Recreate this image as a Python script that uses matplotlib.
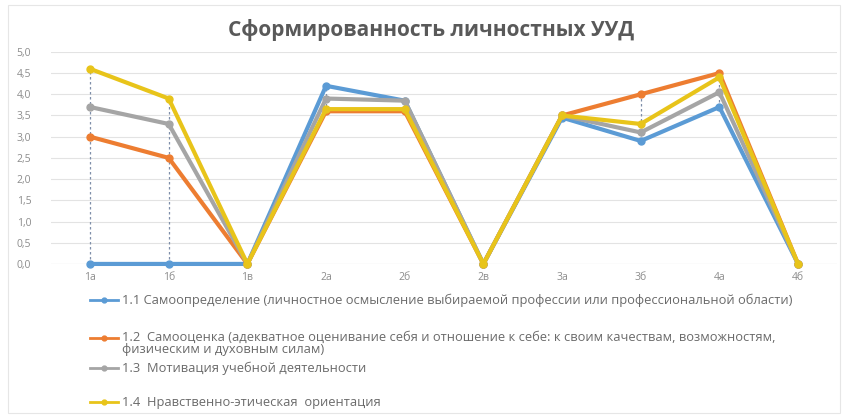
import matplotlib
matplotlib.use("Agg")
import matplotlib.pyplot as plt
from matplotlib.lines import Line2D
from matplotlib.patches import Rectangle
import numpy as np

plt.rcParams['font.family'] = ['Open Sans', 'DejaVu Sans']

categories = ["1а", "1б", "1в", "2а", "2б", "2в", "3а", "3б", "4а", "4б"]
s11 = [0.0, 0.0, 0.0, 4.2, 3.85, 0.0, 3.45, 2.9, 3.7, 0.0]
s12 = [3.0, 2.5, 0.0, 3.6, 3.6, 0.0, 3.5, 4.0, 4.5, 0.0]
s13 = [3.7, 3.3, 0.0, 3.9, 3.85, 0.0, 3.5, 3.1, 4.05, 0.0]
s14 = [4.6, 3.9, 0.0, 3.65, 3.65, 0.0, 3.5, 3.3, 4.4, 0.0]
labels = [
    "1.1 Самоопределение (личностное осмысление выбираемой профессии или профессиональной области)",
    "1.2  Самооценка (адекватное оценивание себя и отношение к себе: к своим качествам, возможностям,\nфизическим и духовным силам)",
    "1.3  Мотивация учебной деятельности",
    "1.4  Нравственно-этическая  ориентация",
]
series = [s11, s12, s13, s14]
colors = ["#5B9BD5", "#ED7D31", "#A5A5A5", "#E8C41A"]
yticks = np.arange(0, 5.01, 0.5)

fig = plt.figure(figsize=(8.45, 4.15), dpi=100)
fig.patch.set_facecolor("white")
fig.add_artist(Rectangle((0.009, 0.005), 0.985, 0.982, transform=fig.transFigure,
                         fill=False, edgecolor="#E6E6E6", linewidth=0.8))

ax = fig.add_axes([0.060, 0.364, 0.931, 0.511])
x = np.arange(len(categories))

# high-low lines
data = np.array(series)
hi = data.max(axis=0)
lo = data.min(axis=0)
ax.vlines(x, lo, hi, colors="#7F8FA9", linestyles=(0, (2, 2)), linewidth=0.9, zorder=2)

for s, c in zip(series, colors):
    ax.plot(x, s, color=c, linewidth=3, marker="o", markersize=5,
            markerfacecolor=c, markeredgecolor=c, zorder=3, clip_on=False)

ax.set_xlim(-0.5, len(categories) - 0.5)
ax.set_ylim(0, 5)
ax.set_yticks(yticks)
ax.set_yticklabels([f"{v:.1f}".replace(".", ",") for v in yticks], fontsize=7.5, color="#8C8C8C")
ax.set_xticks(x)
ax.set_xticklabels(categories, fontsize=7.5, color="#8C8C8C")
ax.tick_params(axis="y", length=0, pad=14)
ax.tick_params(axis="x", length=0, pad=6)
ax.grid(axis="y", color="#E3E3E3", linewidth=0.8)
ax.set_axisbelow(True)
for sp in ax.spines.values():
    sp.set_visible(False)
ax.axhline(0, color="#D9D9D9", linewidth=0.8, zorder=1)

fig.text(0.51, 0.928, "Сформированность личностных УУД", ha="center", va="center",
         fontsize=15, fontweight="bold", color="#595959")

# legend
leg_y = [300, 338, 368, 402]
for yy, c, lab in zip(leg_y, colors, labels):
    yf = 1 - yy / 415
    fig.add_artist(Line2D([90 / 845, 118 / 845], [yf, yf], transform=fig.transFigure,
                          color=c, linewidth=2))
    fig.add_artist(Line2D([104 / 845], [yf], transform=fig.transFigure, color=c,
                          marker="o", markersize=3.5, linestyle="none"))
    t = fig.text(122 / 845, yf, lab, ha="left", va="center",
                 fontsize=9.3, color="#6A6A6A", linespacing=0.95,
                 transform=fig.transFigure)
    if "\n" in lab:
        t.set_va("top")
        t.set_y(1 - 331 / 415)

fig.savefig("out.png", dpi=100, facecolor="white")
